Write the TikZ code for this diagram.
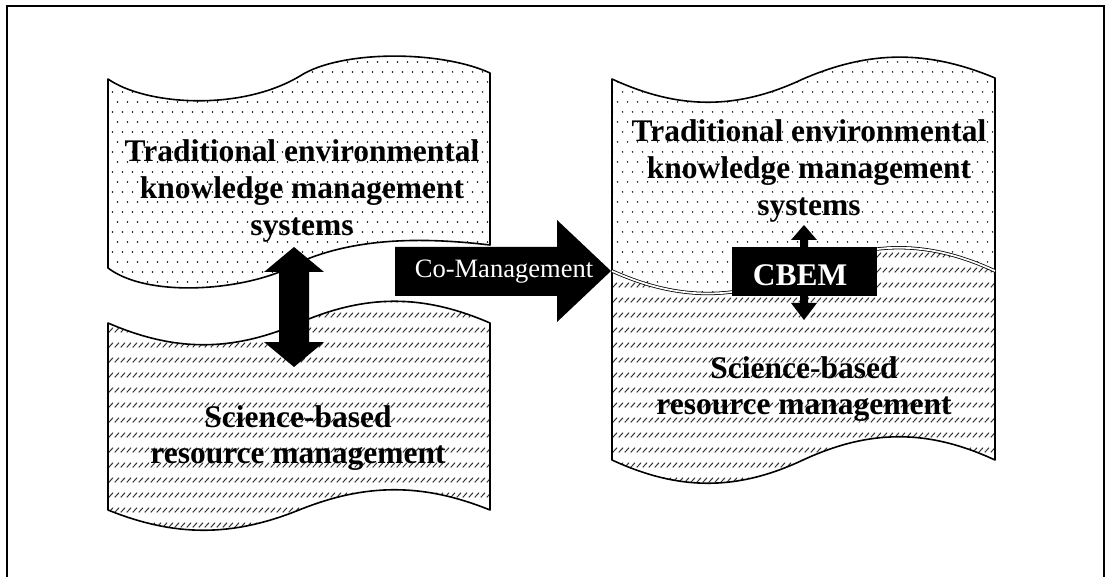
\documentclass[tikz,border=0pt]{standalone}
\usepackage{fontspec}
\setmainfont{Liberation Serif}
\usetikzlibrary{patterns}

\pgfdeclarepatternformonly{tapedots}{\pgfqpoint{-1pt}{-1pt}}{\pgfqpoint{8.5pt}{16pt}}{\pgfqpoint{7.5pt}{15pt}}{%
  \pgfpathcircle{\pgfqpoint{1.9pt}{3.75pt}}{0.6pt}%
  \pgfpathcircle{\pgfqpoint{5.65pt}{11.25pt}}{0.6pt}%
  \pgfusepath{fill}}
\pgfdeclarepatternformonly{tapehatch}{\pgfqpoint{-1pt}{-1pt}}{\pgfqpoint{5.5pt}{12.25pt}}{\pgfqpoint{4.5pt}{11.25pt}}{%
  \pgfsetlinewidth{0.75pt}%
  \pgfpathmoveto{\pgfqpoint{0.6pt}{3.5pt}}\pgfpathlineto{\pgfqpoint{3.8pt}{7pt}}%
  \pgfusepath{stroke}}

\begin{document}
\begin{tikzpicture}[x=0.75pt,y=0.75pt,yscale=-1,xscale=1,
  tapeline/.style={line width=1.2pt, line join=round},
  dotfill/.style={pattern=tapedots, pattern color=black},
  hatchfill/.style={pattern=tapehatch, pattern color=black!80},
  boldlabel/.style={font=\fontsize{23.6}{27.4}\selectfont\bfseries, align=center, inner sep=0pt},
  blockarrow/.style={fill=black}]
\useasboundingbox (0,0) rectangle (1110,577);

%Frame
\draw [line width=1pt] (7,6) rectangle (1104,600) ;

%Shape: Tape [traditional, left]
\draw [tapeline, dotfill] (108,79) .. controls (145,105) and (240,112) .. (300,76) .. controls (340,50) and (440,50) .. (490,73) -- (490,245) .. controls (430,238) and (360,236) .. (300,262) .. controls (255,290) and (150,300) .. (108,268) -- cycle ;
%Shape: Tape [science, left]
\draw [tapeline, hatchfill] (108,323) .. controls (175,352) and (232,352) .. (299,323) .. controls (366,294) and (423,294) .. (490,323) -- (490,510) .. controls (423,483) and (366,483) .. (299,510) .. controls (232,537) and (175,537) .. (108,510) -- cycle ;

%Shape: Tape [science, right]
\path [hatchfill] (612,272) .. controls (679,302) and (737,302) .. (803,272) .. controls (870,241) and (928,241) .. (995,272) -- (995,460) .. controls (928,429) and (870,429) .. (803,460) .. controls (737,491) and (679,491) .. (612,460) -- cycle ;
%Shape: Tape [traditional, right]
\path [dotfill] (612,79) .. controls (679,110) and (737,110) .. (803,79) .. controls (870,50) and (928,50) .. (995,78) -- (995,270) .. controls (928,239) and (870,239) .. (803,270) .. controls (737,300) and (679,300) .. (612,270) -- cycle ;
\draw [tapeline] (612,271) -- (612,79) .. controls (679,110) and (737,110) .. (803,79) .. controls (870,50) and (928,50) .. (995,78) -- (995,271) ;
\draw [tapeline] (612,271) -- (612,460) .. controls (679,491) and (737,491) .. (803,460) .. controls (870,429) and (928,429) .. (995,460) -- (995,271) ;
%Double line between the two right tapes
\draw [double, line width=0.6pt, double distance=1.3pt] (612,271) .. controls (679,301) and (737,301) .. (803,271) .. controls (870,240) and (928,240) .. (995,271) ;

%Block arrow: up-down, left
\fill [blockarrow] (294,247) -- (324,272) -- (309,272) -- (309,342) -- (324,342) -- (294,367) -- (264,342) -- (279,342) -- (279,272) -- (264,272) -- cycle ;
%Block arrow: right
\fill [blockarrow] (395,247) -- (557,247) -- (557,220) -- (611,271) -- (557,322) -- (557,296) -- (395,296) -- cycle ;
%Block arrow: up-down, right
\fill [blockarrow] (804,225) -- (817,240) -- (808,240) -- (808,303) -- (817,303) -- (804,320) -- (791,303) -- (800,303) -- (800,240) -- (791,240) -- cycle ;
%Rectangle
\fill [blockarrow] (732,247) rectangle (877,296) ;

% Text Node
\node [boldlabel] (tekLeft) at (302,191) {Traditional environmental\\knowledge management\\systems};
% Text Node
\node [boldlabel] (sciLeft) at (298,438) {Science-based\\resource management};
% Text Node
\node [boldlabel] (tekRight) at (809,171) {Traditional environmental\\knowledge management\\systems};
% Text Node
\node [boldlabel] (sciRight) at (804,389) {Science-based\\resource management};
% Text Node
\node [font=\fontsize{19.9}{22}\selectfont, text=white, inner sep=0pt] (coMan) at (504,272) {Co-Management};
% Text Node
\node [boldlabel, text=white] (cbem) at (800,275) {CBEM};

\end{tikzpicture}
\end{document}
